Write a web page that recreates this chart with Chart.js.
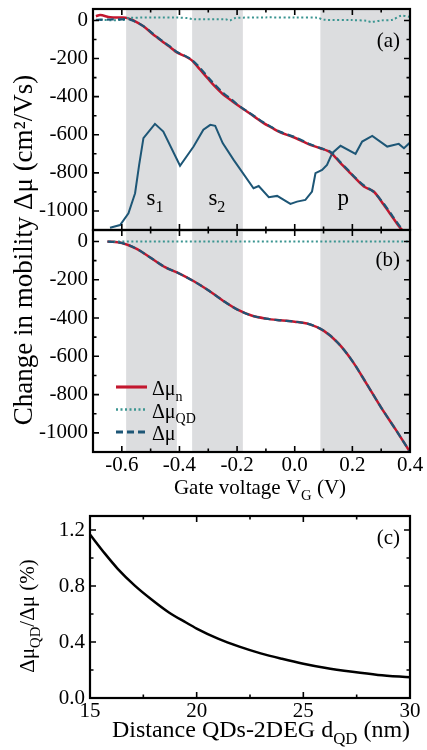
<!DOCTYPE html>
<html>
<head>
<meta charset="utf-8">
<script src="https://cdn.jsdelivr.net/npm/chart.js@4.4.0/dist/chart.umd.min.js"></script>
<style>
  body { margin: 0; background: #fff; }
  #wrap { position: relative; width: 427px; height: 750px; }
  canvas { position: absolute; left: 0; top: 0; }
</style>
</head>
<body>
<div id="wrap">
  <canvas id="chartA" width="427" height="750"></canvas>
  <canvas id="chartB" width="427" height="750"></canvas>
  <canvas id="chartC" width="427" height="750"></canvas>
</div>
<script>
// ---- data ----
// panel (a): measured curves vs gate voltage
const aRedX = [-0.69, -0.675, -0.64, -0.60, -0.58, -0.56, -0.525, -0.49, -0.475, -0.456, -0.43, -0.409, -0.38, -0.357, -0.328, -0.30, -0.282, -0.247, -0.22, -0.20, -0.166, -0.14, -0.108, -0.08, -0.05, -0.004, 0.03, 0.054, 0.089, 0.124, 0.159, 0.19, 0.205, 0.24, 0.274, 0.309, 0.34, 0.367, 0.378]
const aRedY = [22, 28, 17, 15, 12, 0, -31, -75, -92, -115, -143, -168, -188, -210, -259, -307, -338, -390, -420, -443, -478, -505, -539, -563, -588, -613, -636, -653, -671, -693, -749, -797, -820, -872, -898, -968, -1034, -1091, -1105]
const aDashY = [3, 4, 5, 6, 8, -2, -30, -72, -90, -112, -140, -166, -186, -207, -250, -300, -330, -382, -414, -440, -476, -503, -536, -560, -585, -610, -633, -650, -670, -690, -745, -792, -818, -866, -900, -962, -1028, -1085, -1100]
const aDotX = [-0.69, -0.59, -0.58, -0.41, -0.37, -0.35, -0.24, -0.225, -0.21, -0.1, 0.0, 0.08, 0.1, 0.2, 0.25, 0.265, 0.3, 0.34, 0.37, 0.4]
const aDotY = [2, 3, 13, 15, 12, 6, 6, 0, 12, 16, 15, 14, 4, 2, -2, -8, 0, 4, 25, 18]
const aPeakX = [-0.641, -0.606, -0.577, -0.554, -0.54, -0.525, -0.485, -0.456, -0.398, -0.351, -0.317, -0.293, -0.276, -0.25, -0.212, -0.143, -0.125, -0.09, -0.061, -0.015, 0.008, 0.037, 0.06, 0.072, 0.095, 0.112, 0.13, 0.159, 0.211, 0.234, 0.269, 0.321, 0.361, 0.379, 0.4]
const aPeakY = [-1088, -1074, -1012, -907, -760, -618, -543, -583, -763, -662, -574, -548, -553, -644, -732, -881, -869, -928, -921, -963, -951, -942, -898, -802, -785, -758, -697, -658, -700, -636, -606, -662, -648, -671, -641]

// panel (b): calculated curves
const bX = [-0.65, -0.60, -0.55, -0.50, -0.45, -0.40, -0.35, -0.30, -0.25, -0.20, -0.15, -0.10, -0.05, 0.00, 0.05, 0.10, 0.15, 0.20, 0.25, 0.30, 0.35, 0.40]
const bRedY = [0, -8, -37, -85, -134, -168, -208, -255, -308, -355, -387, -403, -412, -419, -432, -466, -530, -625, -745, -868, -982, -1100]
const bDashY = [0, -8, -37, -85, -134, -168, -208, -255, -308, -355, -387, -403, -412, -419, -432, -466, -530, -625, -745, -868, -982, -1100]
const bDotX = [-0.645, 0.40]
const bDotY = [0, 0]

// shaded s1, s2, p ranges (V)
const bandStart = [-0.585, -0.356, 0.089]
const bandEnd = [-0.409, -0.18, 0.4]

// panel (c): ratio vs distance
const cX = [15, 15.7, 16.3, 17.1, 17.9, 18.7, 19.5, 20, 21, 22, 23, 24, 25, 26, 27.3, 28.5, 30]
const cY = [1.168, 1.031, 0.923, 0.803, 0.702, 0.611, 0.539, 0.496, 0.424, 0.367, 0.319, 0.280, 0.245, 0.216, 0.187, 0.165, 0.148]

// ticks
const vgTicks = [-0.6, -0.4, -0.2, 0.0, 0.2, 0.4]
const vgMinor = [-0.7, -0.5, -0.3, -0.1, 0.1, 0.3]
const muTicks = [0, -200, -400, -600, -800, -1000]
const muMinor = [-100, -300, -500, -700, -900]
const dTicks = [15, 20, 25, 30]
const dMinor = [17.5, 22.5, 27.5]
const rTicks = [0.0, 0.4, 0.8, 1.2]
const rMinor = [0.2, 0.6, 1.0]

const legendMain = ['Δμ', 'Δμ', 'Δμ']
const legendSub = ['n', 'QD', '']

const RED = '#c3172f'
const BLUE = '#1d5676'
const TEAL = '#3b9591'
const GREY = '#dcdddf'
const serif = "'Liberation Serif', 'Times New Roman', serif"

const pts = (xs, ys) => xs.map((x, i) => ({ x, y: ys[i] }))

function drawRich(ctx, parts, x, y, size, rotate, align) {
  ctx.save()
  ctx.translate(x, y)
  if (rotate) ctx.rotate(-Math.PI / 2)
  ctx.textBaseline = 'alphabetic'
  ctx.textAlign = 'left'
  ctx.fillStyle = '#000'
  let w = 0
  parts.forEach(p => {
    ctx.font = (p[1] ? size * 0.7 : size) + 'px ' + serif
    w += ctx.measureText(p[0]).width
  })
  let cx = align === 'left' ? 0 : align === 'right' ? -w : -w / 2
  parts.forEach(p => {
    ctx.font = (p[1] ? size * 0.7 : size) + 'px ' + serif
    ctx.fillText(p[0], cx, p[1] ? size * 0.28 : 0)
    cx += ctx.measureText(p[0]).width
  })
  ctx.restore()
}

const panelPlugin = {
  id: 'panel',
  beforeDatasetsDraw(chart, args, o) {
    const { ctx, chartArea: a } = chart
    const xs = chart.scales.x
    if (!o.bands) return
    ctx.save()
    ctx.fillStyle = GREY
    o.bands.forEach(b => {
      const x0 = xs.getPixelForValue(b[0]), x1 = xs.getPixelForValue(b[1])
      ctx.fillRect(x0, a.top, x1 - x0, a.bottom - a.top)
    })
    ctx.restore()
  },
  afterDraw(chart, args, o) {
    const { ctx, chartArea: a } = chart
    const xs = chart.scales.x, ys = chart.scales.y
    ctx.save()
    ctx.strokeStyle = '#000'
    ctx.lineWidth = 1.6
    const tick = (vals, len, isX) => {
      vals.forEach(v => {
        ctx.beginPath()
        if (isX) {
          const p = xs.getPixelForValue(v)
          ctx.moveTo(p, a.bottom); ctx.lineTo(p, a.bottom - len)
          ctx.moveTo(p, a.top); ctx.lineTo(p, a.top + len)
        } else {
          const p = ys.getPixelForValue(v)
          ctx.moveTo(a.left, p); ctx.lineTo(a.left + len, p)
          ctx.moveTo(a.right, p); ctx.lineTo(a.right - len, p)
        }
        ctx.stroke()
      })
    }
    tick(o.xMajor, 6, true)
    tick(o.xMinor, 3.5, true)
    tick(o.yMajor, 6, false)
    tick(o.yMinor, 3.5, false)
    ctx.lineWidth = 2.2
    ctx.strokeRect(a.left, a.top, a.right - a.left, a.bottom - a.top)

    // legend
    if (o.legend) {
      const L = o.legend
      L.order.forEach((di, i) => {
        const ds = chart.data.datasets[di]
        const y = a.top + L.top + i * L.dy
        ctx.save()
        ctx.strokeStyle = ds.borderColor
        ctx.lineWidth = ds.borderWidth + 0.6
        ctx.setLineDash(ds.borderDash || [])
        ctx.beginPath()
        ctx.moveTo(a.left + L.left, y)
        ctx.lineTo(a.left + L.left + 31, y)
        ctx.stroke()
        ctx.restore()
        drawRich(ctx, [[legendMain[i]], [legendSub[i], 1]], a.left + L.left + 36, y + 8, 20, false, 'left')
      })
    }
    // text labels
    ;(o.texts || []).forEach(t => {
      const x = t.data ? xs.getPixelForValue(t.x) : t.x
      const y = t.data ? ys.getPixelForValue(t.y) : t.y
      drawRich(ctx, t.parts, x, y, t.size, t.rotate, t.align)
    })
    ctx.restore()
  }
}

const tickFont = { family: serif, size: 21 }

function xScale(min, max, major, showLabels, height) {
  return {
    type: 'linear', min, max,
    afterBuildTicks: s => { s.ticks = major.map(v => ({ value: v })) },
    afterFit: s => { s.height = height; s.paddingLeft = 0; s.paddingRight = 0 },
    grid: { display: false, drawTicks: false },
    border: { display: false },
    ticks: {
      display: showLabels, font: tickFont, color: '#000', padding: 1,
      autoSkip: false, maxRotation: 0,
      callback: v => Math.abs(v) < 1e-9 ? (min < 1 ? '0.0' : '0') : (max < 1 ? v.toFixed(1) : String(v))
    }
  }
}

function yScale(min, max, major, width, digits) {
  return {
    min, max,
    afterBuildTicks: s => { s.ticks = major.map(v => ({ value: v })) },
    afterFit: s => { s.width = width; s.paddingTop = 0; s.paddingBottom = 0 },
    grid: { display: false, drawTicks: false },
    border: { display: false },
    ticks: {
      font: tickFont, color: '#000', padding: 5,
      callback: v => v.toFixed(digits)
    }
  }
}

const base = {
  responsive: false,
  animation: false,
  devicePixelRatio: 1,
  events: [],
  elements: { point: { radius: 0 } },
  plugins: { legend: { display: false }, tooltip: { enabled: false } }
}

// ---- panel (a) ----
new Chart(document.getElementById('chartA'), {
  type: 'line',
  data: {
    datasets: [
      { data: pts(aRedX, aDashY), borderColor: BLUE, borderWidth: 2.2, borderDash: [7, 4], tension: 0.3 },
      { data: pts(aDotX, aDotY), borderColor: TEAL, borderWidth: 2, borderDash: [2, 2.5], tension: 0.3 },
      { data: pts(aRedX, aRedY), borderColor: RED, borderWidth: 2.5, tension: 0.3 },
      { data: pts(aPeakX, aPeakY), borderColor: BLUE, borderWidth: 2, tension: 0 }
    ]
  },
  options: {
    ...base,
    layout: { padding: { left: 0, top: 9, right: 17, bottom: 520 } },
    scales: {
      x: xScale(-0.7, 0.4, vgTicks, false, 0),
      y: yScale(-1100, 60, muTicks, 93, 0)
    },
    plugins: {
      ...base.plugins,
      panel: {
        bands: bandStart.map((s, i) => [s, bandEnd[i]]),
        xMajor: vgTicks, xMinor: vgMinor, yMajor: muTicks, yMinor: muMinor,
        texts: [
          { parts: [['(a)']], x: 400, y: 47, size: 21, align: 'right' },
          { parts: [['s'], ['1', 1]], data: true, x: -0.485, y: -970, size: 23 },
          { parts: [['s'], ['2', 1]], data: true, x: -0.27, y: -970, size: 23 },
          { parts: [['p']], data: true, x: 0.168, y: -970, size: 23 },
          { parts: [['Change in mobility Δμ (cm²/Vs)']], x: 32, y: 250, size: 27, rotate: true }
        ]
      }
    }
  },
  plugins: [panelPlugin]
})

// ---- panel (b) ----
new Chart(document.getElementById('chartB'), {
  type: 'line',
  data: {
    datasets: [
      { data: pts(bX, bDashY), borderColor: BLUE, borderWidth: 2.2, borderDash: [7, 4], cubicInterpolationMode: 'monotone' },
      { data: pts(bDotX, bDotY), borderColor: TEAL, borderWidth: 2, borderDash: [2, 2.5] },
      { data: pts(bX, bRedY), borderColor: RED, borderWidth: 2.5, cubicInterpolationMode: 'monotone' }
    ]
  },
  options: {
    ...base,
    layout: { padding: { left: 0, top: 230, right: 17, bottom: 268 } },
    scales: {
      x: xScale(-0.7, 0.4, vgTicks, true, 30),
      y: yScale(-1100, 60, muTicks, 93, 0)
    },
    plugins: {
      ...base.plugins,
      panel: {
        bands: bandStart.map((s, i) => [s, bandEnd[i]]),
        xMajor: vgTicks, xMinor: vgMinor, yMajor: muTicks, yMinor: muMinor,
        legend: { order: [2, 1, 0], left: 23, top: 157, dy: 22.5 },
        texts: [
          { parts: [['(b)']], x: 400, y: 266, size: 21, align: 'right' },
          { parts: [['Gate voltage V'], ['G', 1], [' (V)']], x: 260, y: 494, size: 21 }
        ]
      }
    }
  },
  plugins: [panelPlugin]
})

// ---- panel (c) ----
new Chart(document.getElementById('chartC'), {
  type: 'line',
  data: {
    datasets: [
      { data: pts(cX, cY), borderColor: '#000', borderWidth: 2.5, cubicInterpolationMode: 'monotone' }
    ]
  },
  options: {
    ...base,
    layout: { padding: { left: 0, top: 516, right: 17, bottom: 22 } },
    scales: {
      x: xScale(15, 30, dTicks, true, 30),
      y: yScale(0, 1.3, rTicks, 90, 1)
    },
    plugins: {
      ...base.plugins,
      panel: {
        xMajor: dTicks, xMinor: dMinor, yMajor: rTicks, yMinor: rMinor,
        texts: [
          { parts: [['(c)']], x: 400, y: 544, size: 21, align: 'right' },
          { parts: [['Distance QDs-2DEG d'], ['QD', 1], [' (nm)']], x: 261, y: 737, size: 24 },
          { parts: [['Δμ'], ['QD', 1], ['/Δμ (%)']], x: 34, y: 616, size: 21, rotate: true }
        ]
      }
    }
  },
  plugins: [panelPlugin]
})
</script>
</body>
</html>
